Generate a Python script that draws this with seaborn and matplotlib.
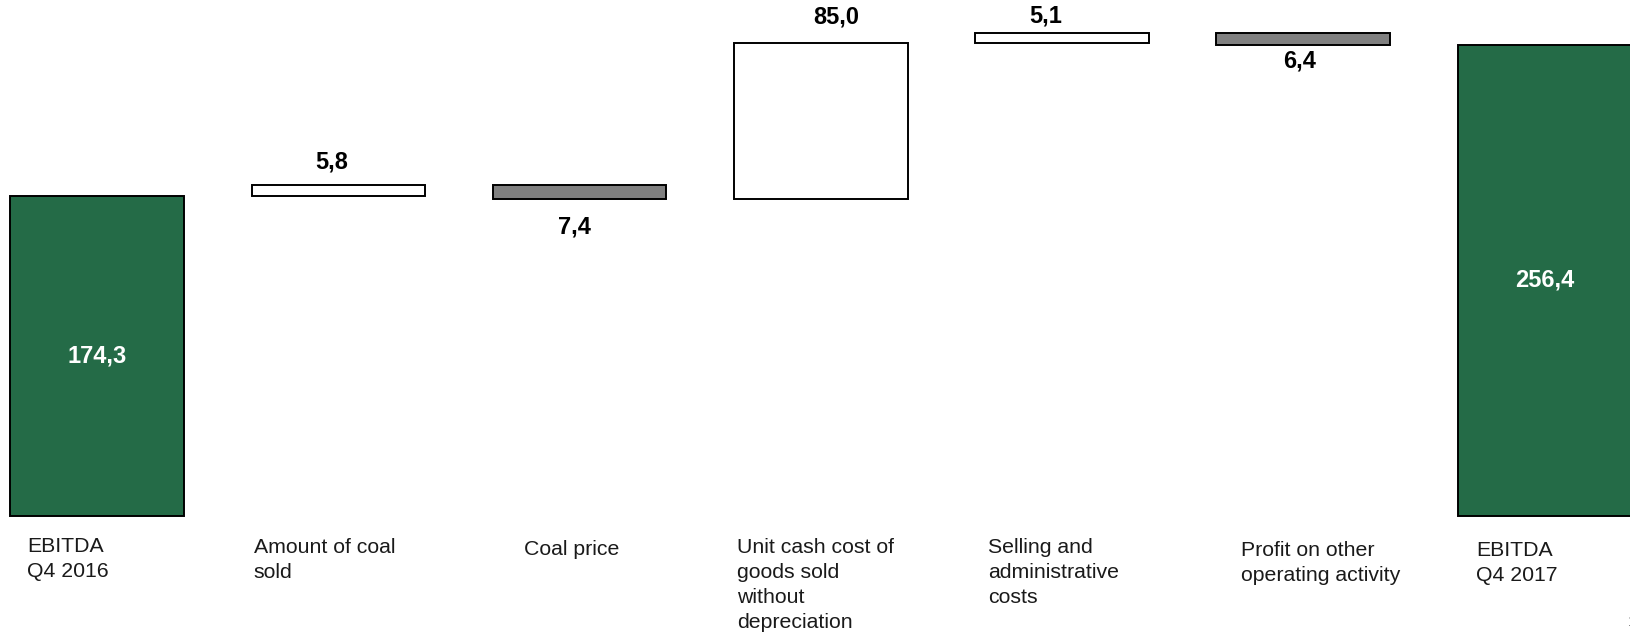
import numpy as np
import pandas as pd
import matplotlib
matplotlib.use("Agg")
import matplotlib.pyplot as plt
import seaborn as sns

# ---- data -------------------------------------------------------------
categories = [
    "EBITDA\nQ4 2016",
    "Amount of coal\nsold",
    "Coal price",
    "Unit cash cost of\ngoods sold\nwithout\ndepreciation",
    "Selling and\nadministrative\ncosts",
    "Profit on other\noperating activity",
    "EBITDA\nQ4 2017",
]
start_value = 174.3
changes = [5.8, -7.4, 85.0, 5.1, -6.4]
end_value = 256.4

# ---- waterfall geometry ------------------------------------------------
bottoms, heights, kinds = [0.0], [start_value], ["total"]
level = start_value
for c in changes:
    lo = level if c >= 0 else level + c
    bottoms.append(lo)
    heights.append(abs(c))
    kinds.append("up" if c >= 0 else "down")
    level += c
bottoms.append(0.0)
heights.append(end_value)
kinds.append("total")
values = [start_value] + changes + [end_value]

df = pd.DataFrame({"category": categories, "height": heights})

face = {"total": "#246b47", "up": "#ffffff", "down": "#808080"}

sns.set_theme(style="white")
plt.rcParams["font.family"] = ["Liberation Sans", "DejaVu Sans"]

W, H, DPI = 1630, 633, 100
fig = plt.figure(figsize=(W / DPI, H / DPI), dpi=DPI)
ax = fig.add_axes([0, 0, 1, 1])

sns.barplot(data=df, x="category", y="height", order=categories,
            bottom=np.array(bottoms), width=0.72, errorbar=None,
            color="white", edgecolor="black", linewidth=1.4, ax=ax)
for patch, k in zip(ax.patches, kinds):
    patch.set_facecolor(face[k])

# pixel scale: one slot = 241.2 px, one unit = 1.835 px
slot_px, unit_px = 241.2, 1.835
x_left = -97.2 / slot_px
ax.set_xlim(x_left, x_left + W / slot_px)
base_px = H - 515.6
ax.set_ylim(-base_px / unit_px, (H - base_px) / unit_px)
ax.set_axis_off()

def fmt(v):
    return f"{abs(v):.1f}".replace(".", ",")

# value labels (offsets in pixels: dx, dy)
label_off = [(0, 0), (-7, 23), (-5, -28), (15, 26), (-16, 17), (-4, -16), (0, 0)]
for i, (v, b, h, k) in enumerate(zip(values, bottoms, heights, kinds)):
    dx, dy = label_off[i]
    if k == "total":
        ax.annotate(fmt(v), (i, b + h / 2), xytext=(dx * 0.72, dy * 0.72),
                    textcoords="offset points", ha="center", va="center",
                    color="white", fontsize=17, fontweight="bold")
    else:
        anchor = b + h if k == "up" else b
        ax.annotate(fmt(v), (i, anchor), xytext=(dx * 0.72, dy * 0.72),
                    textcoords="offset points", ha="center", va="center",
                    color="black", fontsize=17, fontweight="bold")

# category labels, left aligned under each bar (offset from bar left edge, px)
cat_dx = [16.6, 2, 31, 3, 12.5, 25, 18.5]
cat_dy = [0, 1, 3, 1, 1, 4, 4]
for i, name in enumerate(categories):
    x_px = (i - 0.36 - x_left) * slot_px + cat_dx[i]
    y_px = 537 + cat_dy[i]
    fig.text(x_px / W, 1 - y_px / H, name, ha="left", va="top",
             fontsize=15.3, color="#1a1a1a", linespacing=1.4)

# page number at the corner
fig.text(0.9985, 0.006, "1", ha="left", va="bottom", fontsize=10, color="#888888")

fig.savefig("out.png", dpi=DPI)
